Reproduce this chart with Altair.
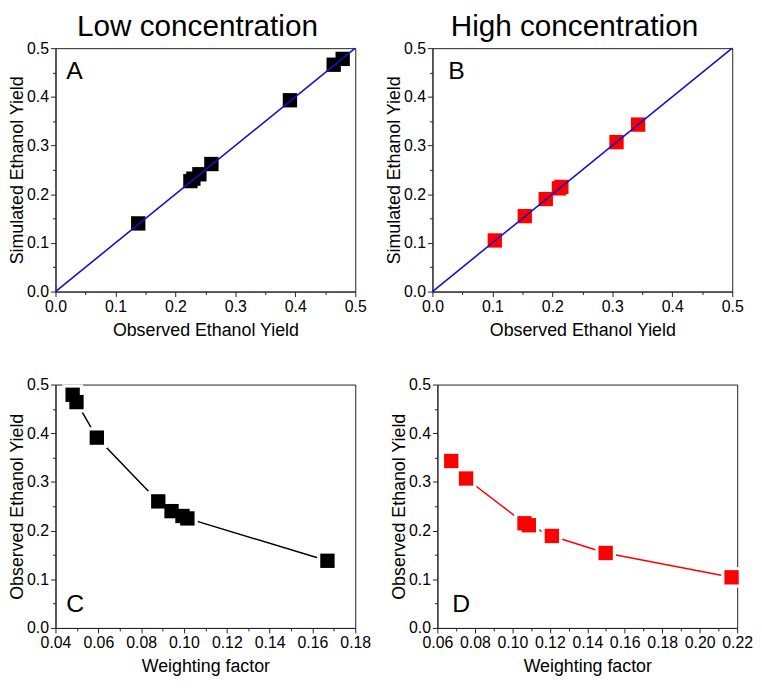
import altair as alt
import pandas as pd

FONT = "Liberation Sans"

# ---- data ----
low_observed = [0.138, 0.225, 0.230, 0.240, 0.260, 0.391, 0.464, 0.479]
low_simulated = [0.140, 0.227, 0.232, 0.241, 0.262, 0.393, 0.466, 0.478]
low_weighting = [0.167, 0.1016, 0.0993, 0.0942, 0.088, 0.0593, 0.0498, 0.048]

high_observed = [0.104, 0.154, 0.189, 0.211, 0.215, 0.307, 0.343]
high_simulated = [0.105, 0.155, 0.190, 0.212, 0.215, 0.307, 0.343]
high_weighting = [0.217, 0.1498, 0.1211, 0.1088, 0.1065, 0.0753, 0.0674]

diag_ends = [0.0, 0.5]

yield_ticks = [0.0, 0.05, 0.1, 0.15, 0.2, 0.25, 0.3, 0.35, 0.4, 0.45, 0.5]
low_wf_ticks = [0.04, 0.05, 0.06, 0.07, 0.08, 0.09, 0.10, 0.11, 0.12, 0.13,
                0.14, 0.15, 0.16, 0.17, 0.18]
high_wf_ticks = [0.06, 0.07, 0.08, 0.09, 0.10, 0.11, 0.12, 0.13, 0.14, 0.15,
                 0.16, 0.17, 0.18, 0.19, 0.20, 0.21, 0.22]

W, H = 303, 246
YIELD_MAJOR = "abs(datum.value*10 - round(datum.value*10)) < 1e-6"
WF_MAJOR = "abs(datum.value*50 - round(datum.value*50)) < 1e-6"


def make_axis(values, fmt, title, major):
    return alt.Axis(
        values=values, format=fmt, title=title,
        labelExpr=f"({major}) ? datum.label : ''",
        tickSize={"condition": {"test": major, "value": 5}, "value": 3},
        labelOverlap=False, labelFlush=False, grid=False,
    )


def letter_layer(letter, x, y):
    return alt.Chart(pd.DataFrame({"t": [letter]})).mark_text(
        font=FONT, fontSize=25, align="left", baseline="bottom", color="black"
    ).encode(x=alt.value(x), y=alt.value(y), text="t:N")


def parity_panel(obs, sim, color, letter, lx, title):
    df = pd.DataFrame({"obs": obs, "sim": sim})
    dd = pd.DataFrame({"obs": diag_ends, "sim": diag_ends})
    x = alt.X("obs:Q", scale=alt.Scale(domain=[0, 0.5], nice=False, zero=False),
              axis=make_axis(yield_ticks, ".1f", "Observed Ethanol Yield", YIELD_MAJOR))
    y = alt.Y("sim:Q", scale=alt.Scale(domain=[0, 0.5], nice=False, zero=False),
              axis=make_axis(yield_ticks, ".1f", "Simulated Ethanol Yield", YIELD_MAJOR))
    pts = alt.Chart(df).mark_point(
        shape="square", filled=True, size=210, color=color, opacity=1
    ).encode(x=x, y=y)
    diag = alt.Chart(dd).mark_line(color="#1212C8", strokeWidth=1.6).encode(x=x, y=y)
    return alt.layer(pts, diag, letter_layer(letter, lx, 36)).properties(
        width=W, height=H,
        title=alt.TitleParams(title, font=FONT, fontSize=30, fontWeight="normal",
                              anchor="middle", color="black", dx=-8, offset=-2),
    )


def weight_panel(wf, obs, color, letter, lx, domain, ticks):
    df = pd.DataFrame({"wf": wf, "obs": obs})
    x = alt.X("wf:Q", scale=alt.Scale(domain=domain, nice=False, zero=False),
              axis=make_axis(ticks, ".2f", "Weighting factor", WF_MAJOR))
    y = alt.Y("obs:Q", scale=alt.Scale(domain=[0, 0.5], nice=False, zero=False),
              axis=make_axis(yield_ticks, ".1f", "Observed Ethanol Yield", YIELD_MAJOR))
    line = alt.Chart(df).mark_line(color=color, strokeWidth=1.5).encode(x=x, y=y)
    gap = alt.Chart(df).mark_point(
        shape="square", filled=True, size=441, color="white", opacity=1
    ).encode(x=x, y=y)
    pts = alt.Chart(df).mark_point(
        shape="square", filled=True, size=210, color=color, opacity=1
    ).encode(x=x, y=y)
    return alt.layer(line, gap, pts, letter_layer(letter, lx, 235)).properties(
        width=W, height=H
    )


A = parity_panel(low_observed, low_simulated, "black", "A", 11, "Low concentration")
B = parity_panel(high_observed, high_simulated, "#FF0000", "B", 16, "High concentration")
C = weight_panel(low_weighting, low_observed, "black", "C", 11, [0.04, 0.18], low_wf_ticks)
D = weight_panel(high_weighting, high_observed, "#FF0000", "D", 15, [0.06, 0.22], high_wf_ticks)

chart = alt.vconcat(
    alt.hconcat(A, B, spacing=18),
    alt.hconcat(C, D, spacing=18),
    spacing=36,
).properties(padding=0).configure_view(
    stroke="#222", strokeWidth=1
).configure_axis(
    labelFont=FONT, labelFontSize=16, labelColor="black", labelPadding=2,
    labelOverlap=False,
    titleFont=FONT, titleFontSize=18, titleFontWeight="normal", titleColor="black",
    domainColor="#222", tickColor="#222", tickWidth=1,
).configure_axisX(titlePadding=7).configure_axisY(titlePadding=0)

chart.save("out.html", embed_options={"renderer": "svg", "actions": False})
